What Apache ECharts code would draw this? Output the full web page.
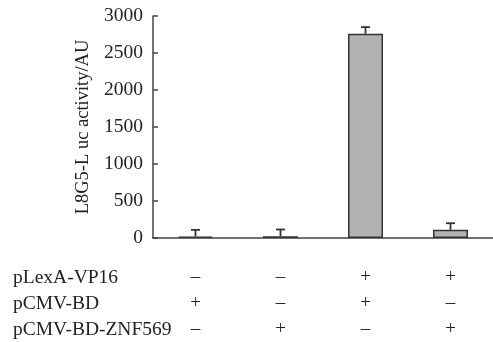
<!DOCTYPE html>
<html><head><meta charset="utf-8">
<script src="https://cdn.jsdelivr.net/npm/echarts@6/dist/echarts.min.js"></script>
<style>html,body{margin:0;padding:0;background:#fff}#c{width:493px;height:342px}</style>
</head><body><div id="c"></div>
<script>
var categories = ['g1', 'g2', 'g3', 'g4'];
var values = [20, 25, 2760, 110];
var errors = [90, 90, 90, 90];
var yTicks = [0, 500, 1000, 1500, 2000, 2500, 3000];
var rowLabels = ['pLexA-VP16', 'pCMV-BD', 'pCMV-BD-ZNF569'];
var signs = [
  ['\u2013', '\u2013', '+', '+'],
  ['+', '\u2013', '+', '\u2013'],
  ['\u2013', '+', '\u2013', '+']
];
var yName = 'L8G5-L uc activity/AU';

var FONT = '"Liberation Serif", "Times New Roman", serif';
var chart = echarts.init(document.getElementById('c'), null, {renderer: 'canvas'});
var rowY = [278, 304, 330];
chart.setOption({
  animation: false,
  backgroundColor: '#fff',
  grid: {left: 153, right: 0, top: 16, bottom: 101, containLabel: false},
  xAxis: {
    type: 'category', data: categories, boundaryGap: true,
    axisLine: {lineStyle: {color: '#444', width: 1.5}},
    axisTick: {inside: true, length: 6, lineStyle: {color: '#444', width: 1.5}},
    axisLabel: {
      margin: 26, lineHeight: 26, fontFamily: FONT, fontSize: 19, color: '#222',
      formatter: function (v, i) { return signs.map(function (r) { return r[i]; }).join('\n'); }
    }
  },
  yAxis: {
    type: 'value', min: 0, max: 3000, interval: 500,
    name: yName, nameLocation: 'middle', nameGap: 58, nameRotate: 90,
    nameTextStyle: {fontFamily: FONT, fontSize: 18.5, color: '#222'},
    axisLine: {show: true, lineStyle: {color: '#444', width: 1.5}},
    axisTick: {show: true, inside: true, length: 5, lineStyle: {color: '#444', width: 1.5}},
    splitLine: {show: false},
    axisLabel: {margin: 10, fontFamily: FONT, fontSize: 19.5, color: '#222',
      formatter: function (v) { return yTicks.indexOf(v) >= 0 ? String(v) : ''; }}
  },
  graphic: rowLabels.map(function (t, i) {
    return {type: 'text', left: 13, top: rowY[i] - 10,
      style: {text: t, font: '19.5px ' + FONT, fill: '#222'}};
  }),
  series: [
    {
      type: 'bar', data: values, barWidth: 35,
      itemStyle: {color: '#b2b2b2', borderColor: '#333', borderWidth: 1.5}
    },
    {
      type: 'custom', z: 5,
      data: values.map(function (v, i) { return [i, v, v + errors[i]]; }),
      renderItem: function (params, api) {
        var p0 = api.coord([api.value(0), api.value(1)]);
        var p1 = api.coord([api.value(0), api.value(2)]);
        var hw = 4.5;
        var st = {stroke: '#333', lineWidth: 1.8};
        return {type: 'group', children: [
          {type: 'line', shape: {x1: p0[0], y1: p0[1], x2: p1[0], y2: p1[1]}, style: st},
          {type: 'line', shape: {x1: p1[0] - hw, y1: p1[1], x2: p1[0] + hw, y2: p1[1]}, style: st}
        ]};
      }
    }
  ]
});
</script></body></html>
